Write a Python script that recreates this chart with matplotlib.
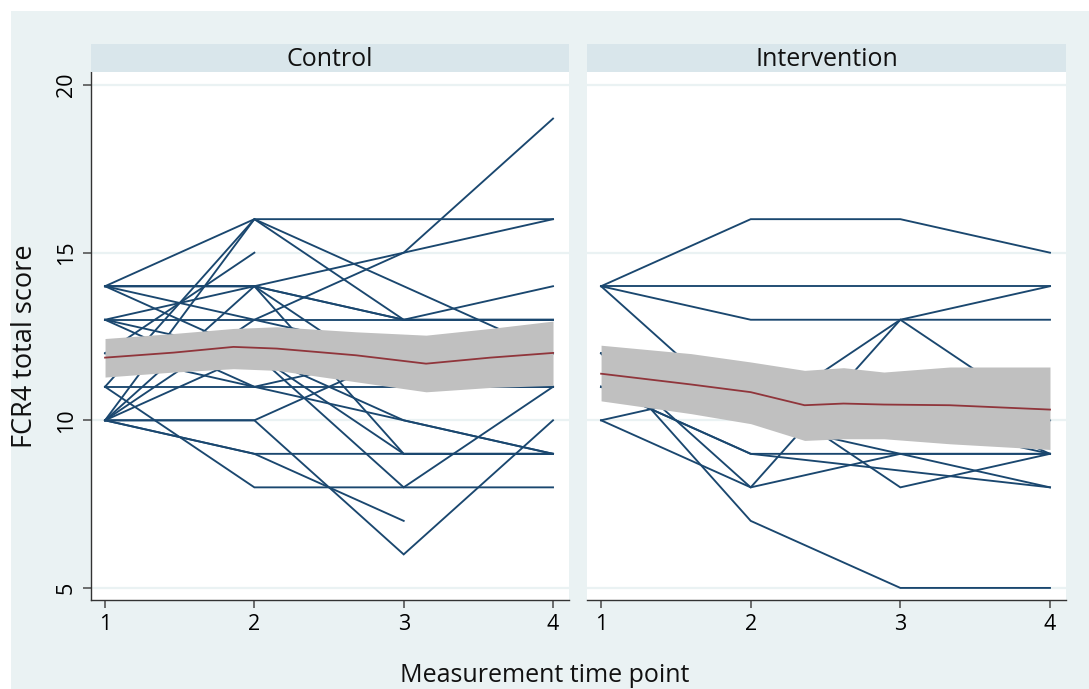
import numpy as np
import matplotlib
matplotlib.use("Agg")
import matplotlib.pyplot as plt

nan = np.nan

# ---------------- data ----------------
time_points = [1, 2, 3, 4]
panel_titles = ["Control", "Intervention"]
y_ticks = [5, 10, 15, 20]
x_label = "Measurement time point"
y_label = "FCR4 total score"

control_subjects = [
    [14, 16, 16, 16],
    [10, 16, 14, 12],
    [10, 13, 15, 19],
    [14, 14, 15, 16],
    [12, 15, nan, nan],
    [13, 13, 13, 13],
    [14, 14, 13, 14],
    [11, 11, 11, 11],
    [10, 10, 6, 10],
    [10, 9, 9, 9],
    [11, 8, 8, 8],
    [10, 9, 7, nan],
    [14, 14, 9, 9],
    [14, 12, 10, 9],
    [10, 12, 8, 11],
    [12, 11, 10, 9],
    [13, 14, 13, 13],
    [14, 13, 12, 11],
    [10, 14, 11, 11],
    [11, 16, 13, 13],
    [13, 11, 12, 12],
    [10, 10, 12, 12],
    [13, 12, 9, 9],
]

intervention_subjects = [
    [14, 16, 16, 15],
    [14, 14, 14, 14],
    [14, 13, 13, 13],
    [14, 10, 13, 14],
    [12, 7, 5, 5],
    [10, 8, 13, 10],
    [11, 9, 9, 9],
    [11, 9, nan, 8],
    [12, 11, 8, 9],
    [11, 10, nan, 8],
    [10, 11, 11, 9],
    [12, 8, 9, 9],
    [11, 11, 10, 9],
]

# smoothed mean and confidence band
control_fit_x = [1.0, 1.46, 1.86, 2.15, 2.68, 3.15, 3.58, 4.0]
control_fit_mean = [11.87, 12.02, 12.19, 12.14, 11.94, 11.69, 11.87, 12.01]
control_fit_upper = [12.44, 12.59, 12.74, 12.79, 12.64, 12.54, 12.74, 12.96]
control_fit_lower = [11.29, 11.44, 11.54, 11.49, 11.15, 10.85, 10.98, 11.04]

interv_fit_x = [1.0, 1.6, 2.0, 2.36, 2.62, 2.89, 3.33, 4.0]
interv_fit_mean = [11.39, 11.07, 10.84, 10.45, 10.50, 10.47, 10.45, 10.32]
interv_fit_upper = [12.24, 11.99, 11.74, 11.49, 11.57, 11.44, 11.59, 11.59]
interv_fit_lower = [10.58, 10.20, 9.90, 9.40, 9.45, 9.45, 9.30, 9.13]

# ---------------- style ----------------
W, H = 1089, 689
BG = "#eaf2f3"
STRIP = "#d9e6eb"
LINE = "#1a476f"
FIT = "#90353b"
BAND = "#c0c0c0"
GRID = "#eaf2f3"
FONT = "Open Sans"

plt.rcParams["font.family"] = [FONT, "DejaVu Sans"]

fig = plt.figure(figsize=(W / 100, H / 100), dpi=100)
fig.patch.set_facecolor("white")

def fx(px):
    return px / W

def fy(py):
    return 1 - py / H

bg_ax = fig.add_axes([fx(11), 0, 1 - fx(11), 1 - 11 / H], zorder=-10)
bg_ax.set_facecolor(BG)
bg_ax.set_xticks([])
bg_ax.set_yticks([])
for s in bg_ax.spines.values():
    s.set_visible(False)

panels = [
    dict(left=91, right=569, subjects=control_subjects,
         fx_=control_fit_x, fm=control_fit_mean, fu=control_fit_upper, fl=control_fit_lower),
    dict(left=587, right=1066, subjects=intervention_subjects,
         fx_=interv_fit_x, fm=interv_fit_mean, fu=interv_fit_upper, fl=interv_fit_lower),
]

top_px, bot_px, strip_top_px = 72, 600, 44
tp = np.array(time_points, dtype=float)

for i, p in enumerate(panels):
    ax = fig.add_axes([fx(p["left"]), fy(bot_px), fx(p["right"] - p["left"]),
                       (bot_px - top_px) / H])
    ax.set_facecolor("white")
    ax.set_ylim(4.64, 20.39)
    ax.set_xlim(0.906, 4.107)
    for gy in y_ticks:
        ax.axhline(gy, color=GRID, lw=1.6, zorder=0.5)
    for subj in p["subjects"]:
        yv = np.array(subj, dtype=float)
        ok = ~np.isnan(yv)
        ax.plot(tp[ok], yv[ok], color=LINE, lw=1.35, zorder=1,
                solid_joinstyle="miter")
    ax.fill_between(p["fx_"], p["fl"], p["fu"], color=BAND, lw=0, zorder=2)
    ax.plot(p["fx_"], p["fm"], color=FIT, lw=1.3, zorder=3)

    ax.set_xticks(time_points)
    ax.set_xticklabels([str(t) for t in time_points], fontsize=15.5)
    ax.tick_params(axis="x", length=6, width=1.2, color="#555555", pad=4)
    for s in ["top", "right"]:
        ax.spines[s].set_visible(False)
    ax.spines["bottom"].set_color("#333333")
    ax.spines["bottom"].set_linewidth(1.0)
    if i == 0:
        ax.set_yticks(y_ticks)
        ax.set_yticklabels([str(t) for t in y_ticks], fontsize=15.5,
                           rotation=90, va="center")
        ax.tick_params(axis="y", length=6, width=1.2, color="#555555", pad=4)
        ax.spines["left"].set_color("#333333")
        ax.spines["left"].set_linewidth(1.0)
    else:
        ax.set_yticks([])
        ax.spines["left"].set_visible(False)

    sax = fig.add_axes([fx(p["left"]), fy(top_px), fx(p["right"] - p["left"]),
                        (top_px - strip_top_px) / H])
    sax.set_facecolor(STRIP)
    sax.set_xticks([])
    sax.set_yticks([])
    for s in sax.spines.values():
        s.set_visible(False)
    sax.text(0.5, 0.45, panel_titles[i], ha="center", va="center",
             fontsize=18, transform=sax.transAxes, color="#111111")

fig.text(fx(545), fy(676), x_label, ha="center", va="center", fontsize=18,
         color="#111111")
fig.text(fx(25), fy(346), y_label, ha="center", va="center", fontsize=19.5,
         rotation=90, color="#111111")

fig.savefig("out.png", dpi=100, facecolor=fig.get_facecolor())
